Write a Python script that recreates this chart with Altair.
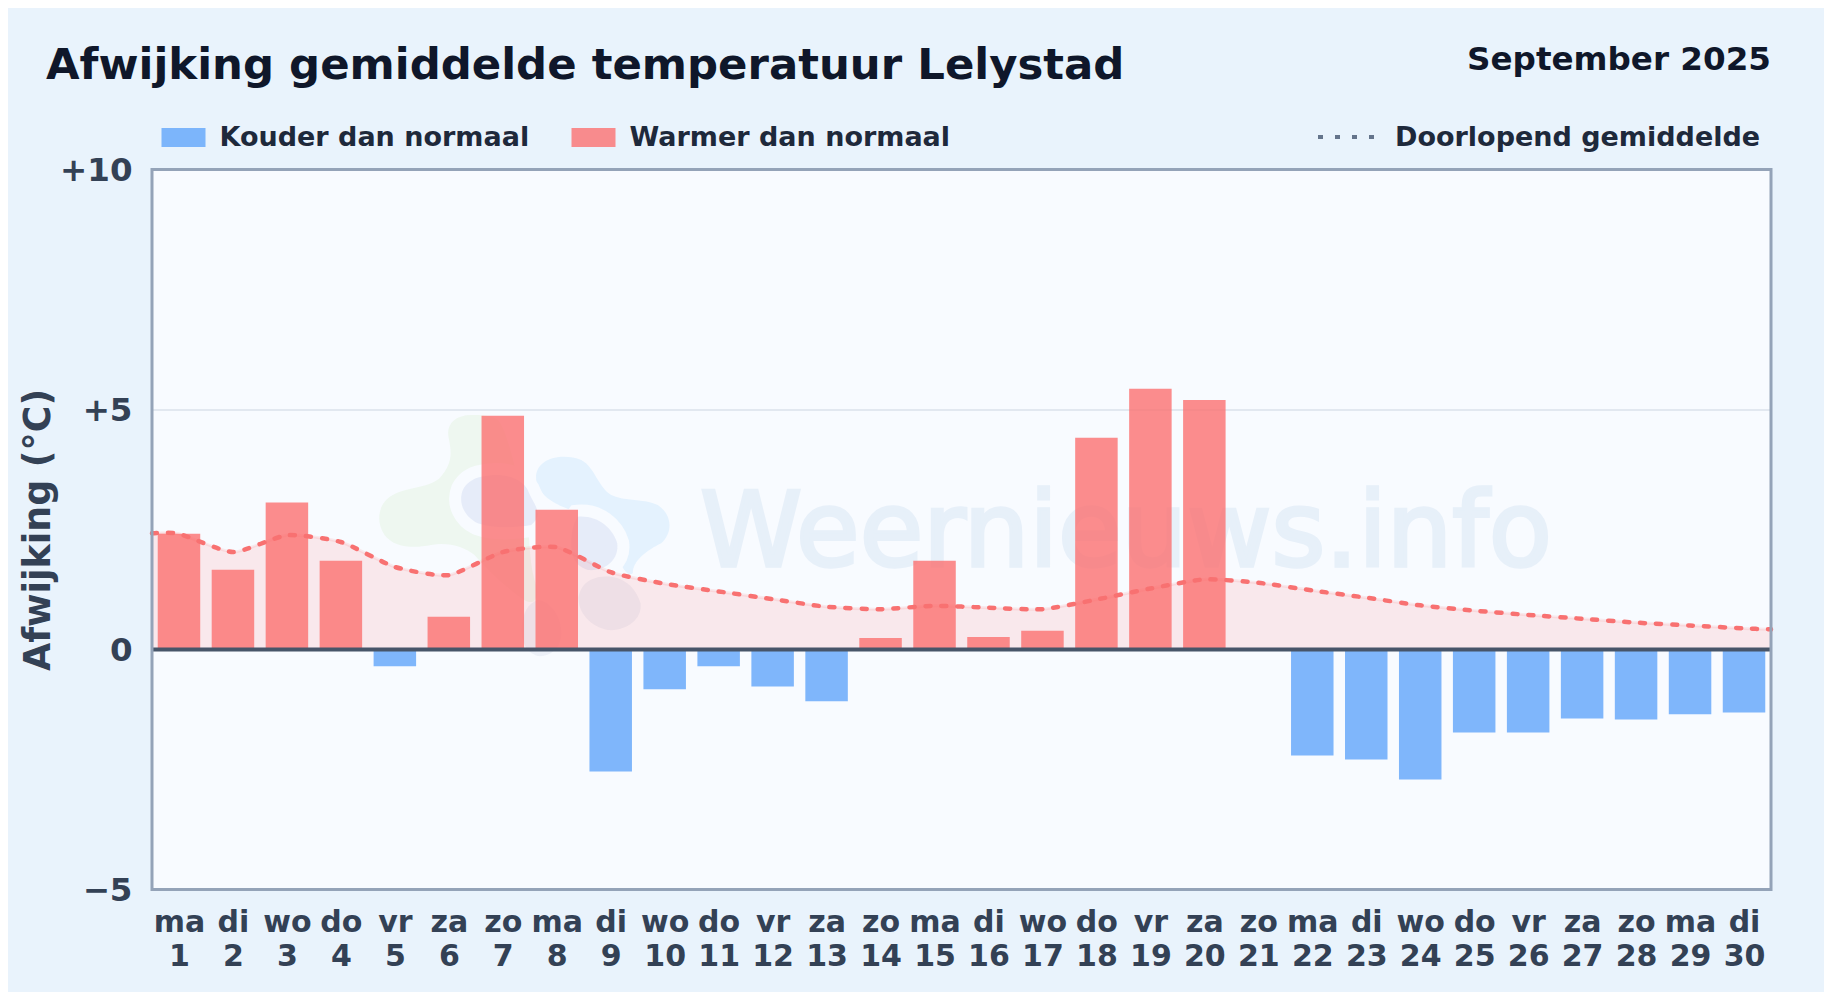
import re
import altair as alt
import pandas as pd

days = list(range(1, 31))
weekdays = ["ma","di","wo","do","vr","za","zo"]*4 + ["ma","di"]
deviation = [2.41,1.66,3.06,1.85,-0.35,0.68,4.87,2.91,-2.54,-0.83,
             -0.35,-0.77,-1.08,0.24,1.85,0.26,0.39,4.41,5.43,5.20,
             0.0,-2.21,-2.29,-2.71,-1.73,-1.73,-1.44,-1.46,-1.35,-1.31]
mean_x = [0.5] + days + [30.5]
mean_y = [2.42,2.41,2.03,2.38,2.24,1.72,1.55,2.03,2.13,1.61,1.37,
          1.21,1.05,0.89,0.84,0.91,0.87,0.84,1.04,1.27,1.46,
          1.39,1.23,1.08,0.92,0.81,0.72,0.64,0.56,0.50,0.44,0.42]
cat_cold = "Kouder dan normaal"
cat_warm = "Warmer dan normaal"

FONT = "DejaVu Sans"
bars = pd.DataFrame({"day": days, "dev": deviation,
                     "cat": [cat_cold if v < 0 else cat_warm for v in deviation]})
bars = bars[bars.dev != 0]
mean = pd.DataFrame({"day": mean_x, "avg": mean_y})
one = pd.DataFrame({"a": [0]})

xscale = alt.Scale(domain=[0.5, 30.5], nice=False, zero=False, padding=0)
yscale = alt.Scale(domain=[-5, 10], nice=False)
lookup = "{" + ",".join(f"{d}:'{w}'" for d, w in zip(days, weekdays)) + "}"

xaxis = alt.Axis(values=days, title=None, domain=False, ticks=False, grid=False,
                 labelFont=FONT, labelFontWeight="bold", labelFontSize=30,
                 labelColor="#334155", labelPadding=18, labelLineHeight=34,
                 labelOverlap=False, labelFlush=False,
                 labelExpr=f"[{lookup}[datum.value], '' + datum.value]")
yaxis = alt.Axis(values=[-5, 0, 5, 10], title="Afwijking (°C)", domain=False, ticks=False,
                 grid=True, gridColor="#e2e8f0", gridWidth=2,
                 labelFont=FONT, labelFontWeight="bold", labelFontSize=32.5,
                 labelColor="#334155", labelPadding=20, labelOffset=1,
                 labelExpr="datum.value > 0 ? '+' + datum.value : (datum.value < 0 ? '\u2212' + abs(datum.value) : '0')",
                 titleFont=FONT, titleFontWeight="bold", titleFontSize=36.4,
                 titleColor="#334155", titlePadding=2)

X = lambda f: alt.X(f, scale=xscale, axis=xaxis)
Y = lambda f: alt.Y(f, scale=yscale, axis=yaxis)

def txt(s, x, y, size, color, align="left", weight="bold", opacity=1.0, **kw):
    return alt.Chart(one).mark_text(text=s, font=FONT, fontSize=size, fontWeight=weight,
                                    color=color, align=align, baseline="alphabetic",
                                    opacity=opacity, clip=False, **kw).encode(
        x=alt.value(x), y=alt.value(y))

# logo outline is sketched in pixels of the reference around the plot's corner
def to_plot(path):
    nums = iter(re.findall(r"[A-Za-z]|-?[\d.]+", path))
    out, is_x = [], True
    for tok in nums:
        if tok.isalpha():
            out.append(tok); is_x = True
        else:
            v = float(tok)
            out.append(f"{v/3 + 365 - 152.5:.1f}" if is_x else f"{v/3 + 400 - 169.5:.1f}")
            is_x = not is_x
    return " ".join(out)

def blob(path, color, opacity, ring=False):
    p = to_plot(path)
    kw = dict(stroke="#f8fbff", strokeWidth=24, fill="#f8fbff", opacity=1) if ring else \
         dict(stroke=None, fill=color, opacity=opacity)
    return alt.Chart(one).mark_point(shape=p, size=4, filled=True, **kw).encode(
        x=alt.value(0), y=alt.value(0))

GREEN = ("M320 45 C270 45 245 75 252 110 C262 160 265 190 225 235 C190 265 130 260 85 285 "
         "C45 305 30 360 60 405 C90 445 150 445 200 435 C250 425 300 440 330 465 "
         "C360 500 420 560 480 600 C510 620 530 590 510 540 C490 470 500 400 480 330 "
         "C460 240 430 90 400 60 C380 45 350 45 320 45 Z")
BLUE = ("M600 170 C550 170 510 195 515 240 C520 280 560 310 620 330 C680 345 740 400 760 470 "
        "C775 510 790 530 805 520 C805 480 850 450 890 430 C925 400 925 345 880 315 "
        "C840 295 780 305 740 285 C700 260 690 200 650 180 C635 172 615 170 600 170 Z")
IN1 = ("M350 230 C420 215 470 235 490 270 C510 320 540 340 500 375 C440 385 380 385 340 370 "
       "C300 350 280 310 295 270 C305 250 325 235 350 230 Z")
IN2 = ("M640 350 C700 345 745 385 758 430 C765 480 720 515 670 510 C640 500 620 480 620 430 "
       "C620 400 625 370 640 350 Z")
IN3 = ("M700 532 C760 520 810 550 828 610 C835 660 780 695 730 690 C680 680 640 640 642 590 "
       "C650 555 670 540 700 532 Z")
IN4 = ("M520 600 C560 605 590 650 590 700 C590 750 550 772 520 768 C480 755 470 720 472 680 "
       "C475 640 490 610 520 600 Z")

area = alt.Chart(mean).mark_area(color="#ff6b6b", opacity=0.13, interpolate="cardinal", tension=0.4).encode(
    x=X("day:Q"), y=Y("avg:Q"), y2=alt.datum(0))

barmark = alt.Chart(bars).mark_bar(size=42.5, opacity=0.8).encode(
    x=X("day:Q"), y=Y("dev:Q"), y2=alt.datum(0),
    color=alt.Color("cat:N",
        scale=alt.Scale(domain=[cat_cold, cat_warm], range=["#60a5fa", "#fb7070"]),
        legend=alt.Legend(title=None, orient="none", direction="horizontal",
                          legendX=9.5, legendY=-54, columns=2, columnPadding=42,
                          symbolType="M-1,-0.43H1V0.43H-1Z", symbolSize=1936,
                          symbolStrokeWidth=0, symbolOffset=0, labelLimit=600,
                          labelFont=FONT, labelFontWeight="bold", labelFontSize=27,
                          labelColor="#1e293b", labelOffset=14)))

halo = alt.Chart(mean).mark_line(color="#ff6b6b", strokeWidth=3, opacity=0.12,
                                 interpolate="cardinal", tension=0.4).encode(
    x=X("day:Q"), y=Y("avg:Q"))
line = alt.Chart(mean).mark_line(color="#f87171", strokeWidth=4.5, strokeCap="round",
                                 strokeDash=[5, 11], interpolate="cardinal", tension=0.4).encode(
    x=X("day:Q"), y=Y("avg:Q"))

zero = alt.Chart(one).mark_rule(color="#475569", strokeWidth=4).encode(
    y=alt.datum(0, scale=yscale, axis=yaxis), x=alt.value(0), x2=alt.value(1619))

border = alt.Chart(one).mark_rect(fillOpacity=0, stroke="#94a3b8", strokeWidth=3).encode(
    x=alt.value(0), x2=alt.value(1619), y=alt.value(0), y2=alt.value(720))

legend_dots = alt.Chart(one).mark_rule(color="#64748b", strokeWidth=4, strokeDash=[5, 12]).encode(
    x=alt.value(1166), x2=alt.value(1222), y=alt.value(-32.5))

chart = alt.layer(
    blob(GREEN, "#8fce5a", 0.09),
    blob(BLUE, "#38a5f5", 0.10),
    blob(IN1, None, 0, ring=True),
    blob(IN2, None, 0, ring=True),
    blob(IN1, "#4a6fc0", 0.10),
    blob(IN2, "#4a6fc0", 0.10),
    blob(IN3, "#5b5f9a", 0.07),
    blob(IN4, "#5b5f9a", 0.07),
    txt("Weernieuws.info", 548, 396, 103.3, "#3b82c4", weight="normal", opacity=0.085,
        stroke="#3b82c4", strokeWidth=3.5),
    area, barmark, halo, line, zero, border,
    txt("Afwijking gemiddelde temperatuur Lelystad", -106, -91, 43.4, "#0f172a"),
    txt("September 2025", 1619, -100, 32.6, "#0f172a", align="right"),
    legend_dots,
    txt("Doorlopend gemiddelde", 1243, -23.5, 27, "#1e293b"),
).resolve_scale(color="independent").properties(
    width=1619, height=720,
    padding={"left": 144, "top": 161.5, "right": 53, "bottom": 102},
    autosize=alt.AutoSizeParams(type="none"),
    background="#e9f3fc",
).configure_view(fill="#f8fbff", stroke=None)

chart.save("out.html", embed_options={"renderer": "svg", "actions": False})
